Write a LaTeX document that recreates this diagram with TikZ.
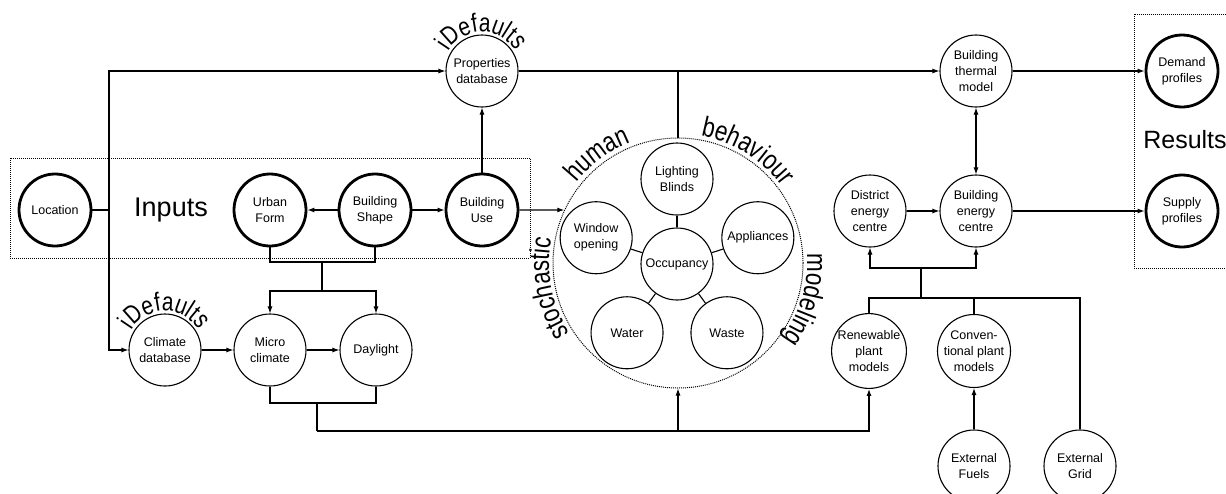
\documentclass[tikz,border=0pt]{standalone}
\usepackage{fontspec}
\setmainfont{Liberation Sans}
\newfontfamily\arcfont[FakeStretch=0.8]{Liberation Sans}
\usetikzlibrary{arrows.meta,calc,decorations.text}

\newcommand{\bigfont}{\arcfont\fontsize{28}{28}\selectfont}
\newcommand{\idfont}{\arcfont\fontsize{26}{26}\selectfont}

\begin{document}
\begin{tikzpicture}[x=1pt,y=1pt,line width=1.1pt,>={Latex[length=7pt,width=5pt]},
	blob/.style={draw,circle,minimum size=72pt,inner sep=0pt,align=center,font=\fontsize{12.5}{16}\selectfont},
	keyblob/.style={blob,line width=2.8pt},
	box/.style={draw,densely dotted,line width=1pt}]
	\useasboundingbox (0,0) rectangle (1226,-493);
	\clip (0,0) rectangle (1226,-493);
	% inputs
	\draw[box] (10,-158) rectangle (530,-258);
	\node[font=\fontsize{27}{27}\selectfont] (inp) at (171,-210) {Inputs};
	\node[keyblob] (loc) at (55,-210) {Location};
	\node[keyblob] (urb) at (270,-210) {Urban\\Form};
	\node[keyblob] (shp) at (375,-210) {Building\\Shape};
	\node[keyblob] (use) at (482,-210) {Building\\Use};
	\node[blob] (prop) at (482,-71) {Properties\\database};
	\node[blob] (clim) at (165,-350) {Climate\\database};
	\node[blob] (mic) at (270,-350) {Micro\\climate};
	\node[blob] (day) at (376,-350) {Daylight};
	% human behaviour
	\node[draw,circle,densely dotted,line width=1pt,minimum size=250pt] (hb) at (678,-263) {};
	\node[blob] (occ) at (677,-264) {Occupancy};
	\foreach \a/\n/\t in {90/lb/{Lighting\\Blinds},162/win/{Window\\opening},18/app/Appliances,234/wat/Water,306/was/Waste}{
		\node[blob] (\n) at ($(occ)+(\a:85)$) {\t};
		\draw (occ) -- (\n);
	}
	% results
	\draw[box] (1134,-14) rectangle (1240,-268);
	\node[font=\fontsize{25}{25}\selectfont] (res) at (1185,-140) {Results};
	\node[blob] (btm) at (976,-71) {Building\\thermal\\model};
	\node[keyblob] (dem) at (1182,-71) {Demand\\profiles};
	\node[blob] (dec) at (870,-211) {District\\energy\\centre};
	\node[blob] (bec) at (976,-211) {Building\\energy\\centre};
	\node[keyblob] (sup) at (1182,-211) {Supply\\profiles};
	\node[blob] (ren) at (869,-351) {Renewable\\plant\\models};
	\node[blob] (cvp) at (974,-351) {Conven-\\tional plant\\models};
	\node[blob] (fuel) at (974,-466) {External\\Fuels};
	\node[blob] (grid) at (1080,-466) {External\\Grid};
	% connectors
	\coordinate (lsplit) at (109,-210);
	\draw (loc) -- (lsplit);
	\draw[->] (lsplit) |- (prop);
	\draw[->] (lsplit) |- (clim);
	\draw[->] (shp) -- (urb);
	\draw[->] (shp) -- (use);
	\draw[->] (use) -- (prop);
	\draw[->] (prop) -- (btm);
	\draw (hb.north) -- (hb.north |- prop);
	\draw[->] (use) -- (hb.155);
	\draw[->] (btm) -- (dem);
	\draw[->] (bec) -- (sup);
	\draw[<->] (btm) -- (bec);
	\draw[->] (dec) -- (bec);
	\coordinate (ejoin) at (921,-268);
	\coordinate (pjoin) at (921,-298);
	\draw[->] (ejoin) -| (dec);
	\draw[->] (ejoin) -| (bec);
	\draw (ejoin) -- (pjoin);
	\draw (ren) |- (pjoin) -| (grid);
	\draw (cvp) -- (cvp |- pjoin);
	\draw[->] (fuel) -- (cvp);
	\coordinate (ujoin) at (322,-262);
	\coordinate (mjoin) at (322,-291);
	\draw (urb) |- (ujoin) -| (shp);
	\draw (ujoin) -- (mjoin);
	\draw[->] (mjoin) -| (mic);
	\draw[->] (mjoin) -| (day);
	\draw[->] (clim) -- (mic);
	\draw[->] (mic) -- (day);
	\coordinate (djoin) at (317,-403);
	\coordinate (bline) at (317,-431);
	\draw (mic) |- (djoin) -| (day);
	\draw (djoin) -- (bline);
	\draw[->] (bline) -| (ren);
	\draw[->] (hb.south |- bline) -- (hb.south);
	% curved labels
	\path[decorate,decoration={text along path,text align=center,text={|\idfont|iDefaults}}] (prop) ++(165:39) arc[start angle=165,end angle=15,radius=39];
	\path[decorate,decoration={text along path,text align=center,text={|\idfont|iDefaults}}] (clim) ++(165:39) arc[start angle=165,end angle=15,radius=39];
	\path[decorate,decoration={text along path,text align=center,text={|\bigfont|stochastic}}] (hb) ++(226:129) arc[start angle=226,end angle=156,radius=129];
	\path[decorate,decoration={text along path,text align=center,text={|\bigfont|human}}] (hb) ++(160:129) arc[start angle=160,end angle=93,radius=129];
	\path[decorate,decoration={text along path,text align=center,text={|\bigfont|behaviour}}] (hb) ++(95:129) arc[start angle=95,end angle=21,radius=129];
	\path[decorate,decoration={text along path,text align=center,text={|\bigfont|modeling}}] (hb) ++(21:129) arc[start angle=21,end angle=-53,radius=129];
\end{tikzpicture}
\end{document}
